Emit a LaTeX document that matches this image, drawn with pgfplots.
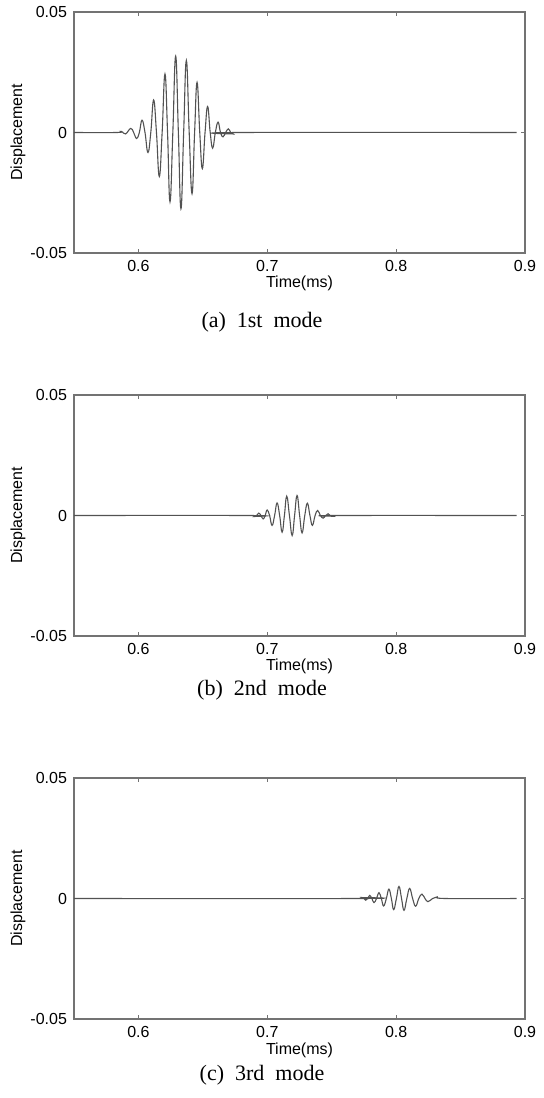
\documentclass[border=0pt]{standalone}
\usepackage{fontspec}
\setmainfont{Liberation Sans}
\newfontfamily\capfont{Liberation Serif}
\usepackage{pgfplots}
\pgfplotsset{compat=1.18}

\pgfplotsset{
  modeax/.style={
    scale only axis,
    width=225.5pt, height=120.5pt,
    xmin=0.55, xmax=0.9, ymin=-0.05, ymax=0.05,
    scaled x ticks=false, scaled y ticks=false,
    xtick={0.6,0.7,0.8,0.9}, xticklabels={0.6,0.7,0.8,0.9},
    ytick={-0.05,0,0.05}, yticklabels={-0.05,0,0.05},
    tick align=inside, major tick length=2pt,
    axis line style={black!55, line width=0.6pt},
    tick style={black!55, line width=0.6pt},
    every tick label/.style={font=\fontsize{8}{9}\selectfont, text=black},
    /pgf/number format/assume math mode=true,
    xlabel={Time(ms)}, ylabel={Displacement},
    label style={font=\fontsize{8}{9}\selectfont},
    xlabel style={at={(axis description cs:0.5,-0.128)}, anchor=center},
    ylabel style={at={(axis description cs:-0.124,0.5)}, anchor=center},
    clip=false,
  },
  wave/.style={black!68, line width=0.55pt, smooth, tension=0.75, mark=none},
}

\begin{document}
\begin{tikzpicture}
\useasboundingbox (0,0) rectangle (271.5pt,-549pt);

% (a) 1st mode
\begin{axis}[modeax, at={(37pt,-126.5pt)}, anchor=south west]
\addplot[wave] coordinates {
(0.5500,0) (0.5830,0) (0.5870,0.0004) (0.5900,-0.0006) (0.5940,0.0017)
(0.5963,0) (0.5986,-0.0025) (0.6007,0) (0.6028,0.0051) (0.6051,0)
(0.6074,-0.0083) (0.6096,0) (0.6118,0.0135) (0.6140,0) (0.6162,-0.0183)
(0.6184,0) (0.6206,0.0243) (0.6226,0) (0.6245,-0.0288) (0.6267,0)
(0.6289,0.0317) (0.6310,0) (0.6330,-0.0317) (0.6351,0) (0.6372,0.0299)
(0.6394,0) (0.6416,-0.0254) (0.6436,0) (0.6455,0.0208) (0.6476,0)
(0.6496,-0.0150) (0.6517,0) (0.6537,0.0108) (0.6557,0) (0.6576,-0.0065)
(0.6597,0) (0.6618,0.0043) (0.6637,0) (0.6656,-0.0018) (0.6677,0)
(0.6698,0.0015) (0.6716,0) (0.6734,-0.0006) (0.6783,0) (0.8935,0)
};
\end{axis}
\node[font=\capfont\fontsize{11}{13}\selectfont] at (131pt,-161pt) {(a)\enspace 1st\enspace mode};

% (b) 2nd mode
\begin{axis}[modeax, at={(37pt,-318pt)}, anchor=south west]
\addplot[wave] coordinates {
(0.5500,0) (0.6851,0) (0.6903,-0.0004) (0.6918,0) (0.6934,0.0010)
(0.6951,0) (0.6968,-0.0014) (0.6984,0) (0.6999,0.0023) (0.7018,0)
(0.7037,-0.0041) (0.7057,0) (0.7076,0.0052) (0.7096,0) (0.7115,-0.0069)
(0.7133,0) (0.7151,0.0080) (0.7172,0) (0.7193,-0.0083) (0.7212,0)
(0.7231,0.0083) (0.7251,0) (0.7270,-0.0072) (0.7291,0) (0.7311,0.0051)
(0.7331,0) (0.7350,-0.0041) (0.7371,0) (0.7391,0.0021) (0.7412,0)
(0.7433,-0.0011) (0.7453,0) (0.7472,0.0007) (0.7489,0) (0.7505,-0.0003)
(0.7536,0) (0.8935,0)
};
\end{axis}
\node[font=\capfont\fontsize{11}{13}\selectfont] at (131pt,-345pt) {(b)\enspace 2nd\enspace mode};

% (c) 3rd mode
\begin{axis}[modeax, at={(37pt,-509.5pt)}, anchor=south west]
\addplot[wave] coordinates {
(0.5500,0) (0.7691,0) (0.7735,0.0004) (0.7750,0) (0.7764,-0.0007)
(0.7780,0) (0.7795,0.0013) (0.7812,0) (0.7828,-0.0017) (0.7848,0)
(0.7867,0.0024) (0.7885,0) (0.7903,-0.0031) (0.7924,0) (0.7944,0.0039)
(0.7963,0) (0.7981,-0.0046) (0.8002,0) (0.8022,0.0050) (0.8042,0)
(0.8061,-0.0049) (0.8083,0) (0.8105,0.0042) (0.8128,0) (0.8151,-0.0032)
(0.8176,0) (0.8200,0.0018) (0.8224,0) (0.8247,-0.0013) (0.8283,0)
(0.8319,0.0007) (0.8384,0) (0.8935,0)
};
\end{axis}
\node[font=\capfont\fontsize{11}{13}\selectfont] at (131pt,-537.5pt) {(c)\enspace 3rd\enspace mode};
\end{tikzpicture}
\end{document}
